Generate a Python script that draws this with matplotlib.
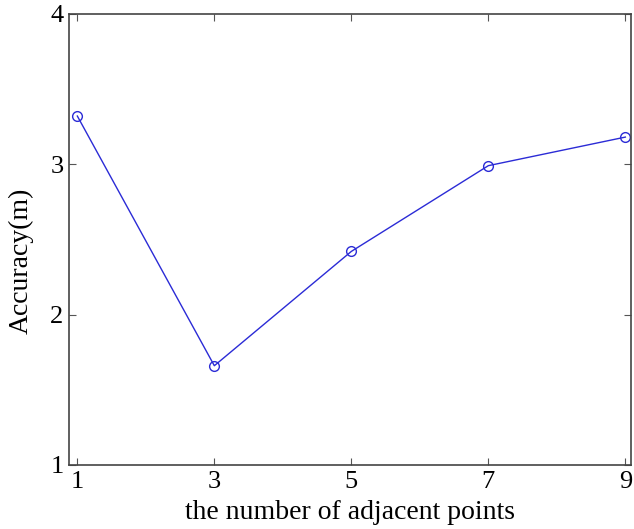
import matplotlib.pyplot as plt

# data
neighbours = [1, 3, 5, 7, 9]
accuracy = [3.32, 1.66, 2.42, 2.99, 3.18]

plt.rcParams['font.family'] = ['Liberation Serif', 'DejaVu Serif']

fig = plt.figure(figsize=(6.34, 5.29), dpi=100)
ax = fig.add_axes([0.109, 0.121, 0.886, 0.853])

ax.plot(neighbours, accuracy, color='#2b2bd6', lw=1.0, marker='o',
        markersize=7, markerfacecolor='none', markeredgewidth=1.0)

ax.set_xlim(0.88, 9.08)
ax.set_ylim(1, 4)
ax.set_xticks(neighbours)
ax.set_yticks([1, 2, 3, 4])
ax.tick_params(direction='in', top=True, right=True, labelsize=19, length=5,
               color='#555555', pad=4)
for s in ax.spines.values():
    s.set_color('#444444')
    s.set_linewidth(1.2)

ax.set_xlabel('the number of adjacent points', fontsize=20)
ax.xaxis.set_label_coords(0.5, -0.078)
ax.set_ylabel('Accuracy(m)', fontsize=20, va='center')
ax.yaxis.set_label_coords(-0.085, 0.452)

fig.savefig('out.png', dpi=100)
